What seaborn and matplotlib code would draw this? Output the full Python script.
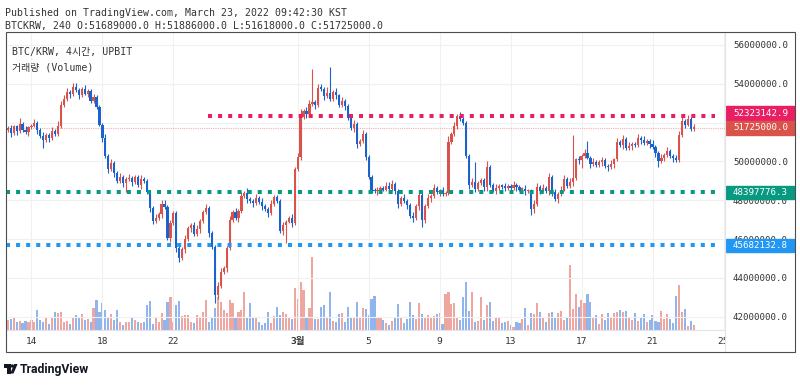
import numpy as np
import pandas as pd
import matplotlib
matplotlib.use("Agg")
import matplotlib.pyplot as plt
import seaborn as sns
from matplotlib.patches import Rectangle, Ellipse, Polygon
from matplotlib.lines import Line2D

# BTC/KRW 4h candles, prices in million KRW
first_open = 51.60
closes = [
    51.70, 51.45, 51.80, 51.55, 51.95, 51.60, 51.50, 51.75, 51.85, 52.00,
    51.60, 51.30, 51.10, 51.35, 51.20, 51.55, 51.40, 51.80,
    52.90, 53.20,
    53.60, 53.45, 53.85, 53.70, 53.40, 53.75, 53.50, 53.65, 53.10, 53.30,
    52.80, 51.90, 51.20, 50.30, 49.60, 49.90, 49.40,
    49.00, 49.20, 48.90, 49.10,
    49.15, 48.95, 49.20, 48.80, 49.10, 49.00,
    48.40, 47.60,
    46.95, 47.10, 47.30, 47.80, 47.65,
    46.05, 46.80, 47.35, 45.55, 45.00, 45.50, 46.00, 46.55, 46.70, 46.25,
    46.50, 46.95, 47.40, 47.60, 46.30, 45.60,
    43.10, 43.60, 44.30, 44.50, 45.55, 47.00, 47.40,
    47.10, 47.45, 48.20, 48.35,
    48.05, 47.95, 47.85, 48.10, 47.90, 47.70, 47.55, 47.35, 47.80, 48.15, 47.95,
    46.40, 46.70, 46.90, 47.10, 46.80, 49.60, 50.25, 52.30,
    52.60, 52.45, 52.95, 53.05, 52.90, 53.80, 53.75, 53.35, 53.55, 53.20,
    53.60, 53.40, 52.90, 53.10, 52.85,
    52.25, 51.70, 51.95, 50.90, 51.05, 51.40, 50.25, 49.20,
    48.55, 48.45, 48.50, 48.65, 48.55, 48.75, 48.60, 48.85, 48.50,
    47.80, 48.10, 47.95, 47.75, 47.20, 47.10, 47.70, 48.25, 47.00, 47.70, 48.10,
    48.20, 48.65, 48.40, 48.50, 48.30, 48.35,
    51.00,
    51.40, 51.85, 52.35, 52.20, 52.00,
    50.30, 48.80,
    48.95, 48.60, 48.90, 49.05, 48.70,
    49.70, 48.80,
    48.50, 48.65, 48.75, 48.70, 48.65, 48.75, 48.65, 48.80, 48.70, 48.55,
    48.60, 48.45, 48.50,
    47.55, 47.80, 48.70,
    48.50, 48.65, 48.45, 49.20, 48.40, 48.05, 48.30, 48.55, 49.10,
    48.75, 48.95, 49.15, 50.10, 50.05, 50.30, 50.45, 50.20,
    49.85, 49.95, 49.80, 49.95, 50.05, 49.75,
    49.70, 49.85, 50.10,
    51.00, 50.85, 51.15,
    50.70, 50.80, 50.90, 50.85, 51.20, 51.10, 50.95, 51.05, 50.90,
    50.75, 50.45, 50.00, 50.20, 50.35, 50.55, 50.30, 50.15, 50.05,
    51.35, 52.10, 51.90, 52.20, 51.689, 51.725,
]

# wick lengths beyond the body, in 0.1 million KRW
wick_up = [
    1, 2, 1, 1, 3, 1, 2, 1, 1, 2,
    1, 1, 2, 1, 1, 2, 1, 3, 2, 2,
    2, 1, 2, 2, 1, 1, 2, 1, 1, 2,
    1, 1, 1, 2, 1, 2, 1, 1, 2, 1,
    1, 2, 1, 1, 1, 2, 1, 1, 1, 1,
    2, 1, 2, 2, 1, 2, 1, 1, 1, 1,
    2, 1, 1, 2, 2, 1, 1, 2, 1, 1,
    1, 2, 2, 1, 1, 2, 1, 2, 1, 2,
    1, 3, 1, 1, 2, 1, 2, 1, 1, 2,
    1, 1, 1, 2, 1, 1, 2, 1, 2, 4,
    1, 2, 2, 17, 1, 2, 2, 1, 3, 13,
    1, 2, 1, 2, 1, 1, 1, 2, 1, 1,
    2, 1, 1, 1, 1, 2, 1, 1, 2, 2,
    2, 1, 1, 1, 2, 1, 1, 2, 1, 2,
    2, 1, 2, 1, 2, 1, 1, 2, 1, 3,
    1, 2, 1, 2, 1, 1, 1, 2, 10, 1,
    1, 1, 3, 1, 1, 2, 1, 1, 2, 1,
    1, 2, 1, 1, 1, 2, 1, 1, 2, 2,
    1, 2, 1, 2, 1, 2, 1, 2, 2, 1,
    2, 22, 1, 2, 1, 2, 6, 1, 2, 1,
    1, 2, 1, 1, 2, 1, 2, 1, 2, 1,
    2, 1, 1, 2, 1, 2, 1, 1, 2, 1,
    1, 2, 1, 2, 1, 1, 2, 2, 2, 1,
    2, 1, 2,
]
wick_dn = [
    1, 2, 1, 2, 1, 1, 1, 2, 1, 1,
    2, 1, 4, 1, 2, 1, 1, 1, 1, 1,
    1, 2, 1, 1, 2, 1, 1, 2, 1, 1,
    1, 1, 2, 1, 2, 1, 2, 1, 1, 2,
    5, 1, 2, 1, 1, 2, 1, 1, 2, 2,
    1, 1, 2, 1, 1, 2, 1, 2, 2, 1,
    2, 1, 2, 1, 1, 2, 1, 1, 2, 1,
    4, 2, 1, 1, 2, 1, 1, 1, 2, 1,
    1, 2, 1, 2, 1, 1, 2, 1, 2, 1,
    1, 1, 1, 2, 9, 1, 2, 1, 1, 2,
    1, 2, 1, 1, 2, 1, 1, 2, 1, 1,
    1, 2, 1, 1, 2, 1, 1, 2, 2, 1,
    1, 2, 1, 2, 1, 2, 1, 1, 1, 2,
    1, 2, 2, 1, 1, 2, 1, 2, 1, 2,
    4, 2, 1, 2, 1, 1, 2, 1, 1, 1,
    1, 1, 2, 1, 1, 1, 2, 1, 2, 1,
    1, 2, 2, 1, 1, 2, 1, 1, 2, 1,
    1, 1, 2, 1, 1, 2, 1, 3, 2, 1,
    2, 1, 1, 2, 2, 1, 2, 1, 1, 1,
    1, 2, 1, 2, 4, 1, 1, 2, 1, 1,
    1, 2, 1, 2, 1, 2, 1, 1, 2, 1,
    1, 2, 1, 1, 2, 1, 1, 2, 1, 2,
    3, 1, 2, 1, 1, 2, 1, 1, 1, 2,
    1, 1, 1,
]

volume = [
    10, 11, 12, 8, 9, 7, 9, 8, 10, 8, 20, 10, 8, 12, 6, 12, 18, 17, 18, 8,
    9, 6, 13, 15, 12, 16, 10, 11, 8, 22, 30, 18, 27, 20, 12, 16, 10, 20, 8, 5,
    8,
    8, 13, 10, 8, 7, 8, 25, 29, 6, 13, 8, 17, 10, 28, 33, 8, 25, 29, 14, 15,
    15, 8, 7, 15, 13, 18, 30, 8, 12, 22, 33, 28, 20, 17, 30, 27, 12, 18, 20, 38,
    12, 27, 13, 12, 8, 5, 7, 18, 7, 14, 23, 15, 18, 16, 13, 11, 42, 31, 48, 40,
    13, 22, 73, 11, 11, 23, 25, 12, 38, 9, 8, 16, 17, 8, 23, 13, 13, 28, 13, 22,
    21, 15, 31, 34, 12, 12, 10, 7, 5, 9, 13, 26, 13, 7, 11, 28, 15, 11, 27, 16,
    13, 15, 13, 14, 16, 17, 6, 36, 38, 26, 27, 12, 10, 33, 48, 19, 38, 8, 9, 33,
    10,
    25, 28, 9, 12, 13, 7, 8, 9, 5, 3, 8, 7, 11, 22, 5, 17, 16, 27, 18, 13,
    8, 17, 18, 13, 17, 19, 10, 12, 65, 21, 36, 23, 30, 27, 36, 28, 12, 15, 6, 16,
    10,
    17, 12, 17, 18, 20, 18, 19, 13, 10, 17, 9, 13, 16, 8, 10, 15, 9, 8, 19, 11,
    16, 11, 7, 34, 45, 18, 21, 4, 9, 5,
]

levels = [52323142.9, 48397776.3, 45682132.8]
level_colors = ["#e91e63", "#089981", "#2196f3"]
level_start = [67.7, -0.6, -0.6]

y_ticks = [42, 44, 46, 48, 50, 52, 54, 56]
tick_idx = [8, 32, 56, 98, 122, 146, 170, 194, 218, 242]
tick_labels = ["14", "18", "22", "3월", "5", "9", "13", "17", "21", "25"]

UP, DN = "#d9534a", "#1a62cc"
VUP, VDN = "#eea6a1", "#8fb5ec"
TXT = "#333333"

sns.set_theme(style="white")
plt.rcParams["font.family"] = ["DejaVu Sans Mono", "Noto Sans CJK KR"]

c = np.array(closes)
o = np.array([first_open] + closes[:-1])
hi = np.maximum(o, c) + np.array(wick_up) / 10
lo = np.minimum(o, c) - np.array(wick_dn) / 10
rising = c >= o
idx = np.arange(len(c))
cols = np.where(rising, UP, DN)

fig = plt.figure(figsize=(8, 3.85), dpi=100)
fx = lambda x: x / 800
fy = lambda y: 1 - y / 385
rect = [fx(6), fy(330), 719 / 800, 298 / 385]

# volume pane (bottom layer)
axv = fig.add_axes(rect)
vdf = pd.DataFrame({"i": idx, "vol": volume, "dir": np.where(rising, "up", "down")})
sns.barplot(data=vdf, x="i", y="vol", hue="dir", palette={"up": VUP, "down": VDN},
            native_scale=True, dodge=False, width=0.72, saturation=1,
            errorbar=None, legend=False, linewidth=0, ax=axv)
axv.set_xlim(-0.6, 242.5)
axv.set_ylim(0, 298)
axv.axis("off")

# price pane
ax = fig.add_axes(rect)
ax.set_zorder(2)
ax.patch.set_visible(False)
ax.vlines(idx, lo, hi, colors=cols, lw=0.8, zorder=3)
ax.bar(idx, np.maximum(np.abs(c - o), 0.06), bottom=np.minimum(o, c),
       width=0.74, color=cols, lw=0, zorder=4)
ax.set_xlim(-0.6, 242.5)
ax.set_ylim(41.31, 56.67)

ax.yaxis.tick_right()
ax.set_yticks(y_ticks)
ax.set_yticklabels([f"{v * 1e6:.1f}" for v in y_ticks])
ax.set_xticks(tick_idx)
ax.set_xticklabels(tick_labels)
ax.get_xticklabels()[3].set_fontweight("bold")
ax.tick_params(axis="y", length=0, pad=5.8, labelsize=6.6, labelcolor=TXT)
ax.tick_params(axis="x", length=0, pad=5, labelsize=6.8, labelcolor=TXT)
ax.grid(True, color="#f0f0f0", lw=0.8)
for s in ax.spines.values():
    s.set_visible(False)

# key levels
for val, col, x0 in zip(levels, level_colors, level_start):
    ax.hlines(val / 1e6, x0, 239, colors=col, lw=2.9, linestyles=(0, (1, 1.5)), zorder=5)
ax.axhline(c[-1], color="#f2b3b0", lw=0.8, ls=(0, (1, 1)), zorder=2)

# price labels on the right scale (pink one nudged up so the two tags don't collide)
label_shift = [0.17, 0, 0, 0]
trans = ax.get_yaxis_transform()
for (val, col), dy in zip(list(zip(levels, level_colors)) + [(c[-1] * 1e6, UP)], label_shift):
    y = val / 1e6 + dy
    ax.add_patch(Rectangle((1.0014, y - 0.34), 0.0945, 0.68, transform=trans,
                           color=col, clip_on=False, zorder=6))
    ax.text(1.0111, y, f"{val:.1f}", transform=trans, color="white",
            fontsize=6.6, va="center", ha="left", zorder=7)

# texts
fig.text(fx(5), fy(13), "Published on TradingView.com, March 23, 2022 09:42:30 KST",
         fontsize=7.15, color=TXT, va="center")
fig.text(fx(5), fy(26), "BTCKRW, 240 O:51689000.0 H:51886000.0 L:51618000.0 C:51725000.0",
         fontsize=7.15, color=TXT, va="center")
fig.text(fx(12), fy(52), "BTC/KRW, 4시간, UPBIT", fontsize=7.15, color=TXT, va="center")
fig.text(fx(12), fy(67), "거래량 (Volume)", fontsize=7.15, color=TXT, va="center")

# frame and separators
tf = fig.transFigure
fig.add_artist(Rectangle((fx(725.5), fy(351.5)), 68.5 / 800, 21 / 385, fc="white",
                         ec="none", transform=tf, zorder=15))
fig.add_artist(Line2D([fx(725), fx(725)], [fy(32), fy(352)], color="#e0e3eb", lw=0.8,
                      transform=tf, zorder=16))
fig.add_artist(Line2D([fx(6), fx(725)], [fy(330), fy(330)], color="#e0e3eb", lw=0.8,
                      transform=tf, zorder=16))
fig.add_artist(Rectangle((fx(5.5), fy(352)), 789 / 800, 320 / 385, fill=False,
                         ec="#4d4d4d", lw=0.8, transform=tf, zorder=20))

# TradingView logo
fig.add_artist(Rectangle((fx(4), fy(367.5)), 6.5 / 800, 3.5 / 385, fc="#131722",
                         ec="none", transform=tf))
fig.add_artist(Rectangle((fx(7), fy(373.5)), 3.5 / 800, 9.5 / 385, fc="#131722",
                         ec="none", transform=tf))
fig.add_artist(Ellipse((fx(12.3), fy(366)), 3.4 / 800, 3.4 / 385, fc="#131722",
                       ec="none", transform=tf))
fig.add_artist(Polygon([(fx(14.2), fy(364)), (fx(17.6), fy(364)), (fx(13.5), fy(373.5)),
                        (fx(10.3), fy(373.5))], closed=True, fc="#131722", ec="none",
                       transform=tf))
fig.text(fx(19.5), fy(369), "TradingView", fontsize=8.8, fontweight="bold",
         family="Roboto", color="#131722", va="center")

fig.savefig("out.png", dpi=100)
